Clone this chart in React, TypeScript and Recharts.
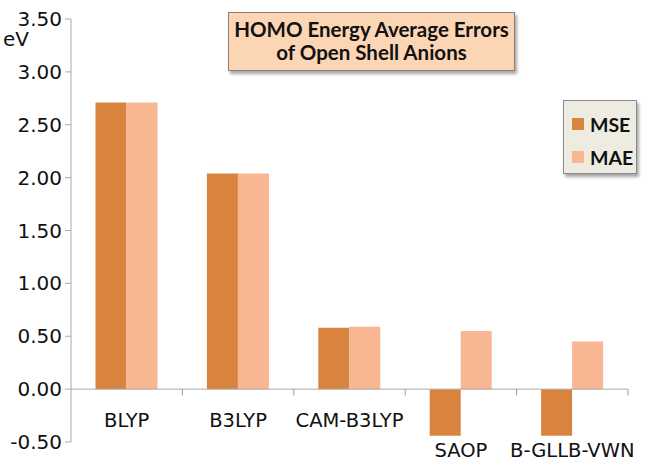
import React from "react";
import { BarChart, Bar, XAxis, YAxis, ReferenceLine } from "recharts";

const categories = ["BLYP", "B3LYP", "CAM-B3LYP", "SAOP", "B-GLLB-VWN"];
const mseValues = [2.71, 2.04, 0.58, -0.44, -0.44];
const maeValues = [2.71, 2.04, 0.59, 0.55, 0.45];
const yTicks = [-0.5, 0, 0.5, 1, 1.5, 2, 2.5, 3, 3.5];

const series = [
  { key: "MSE", color: "#D8843F" },
  { key: "MAE", color: "#F8B692" },
];

const data = categories.map((name, i) => ({
  name,
  MSE: mseValues[i],
  MAE: maeValues[i],
}));

const tickFont = "'DejaVu Sans', sans-serif";

// labels sit under the zero line, or under the bar when it goes negative
const CategoryTick = (props: any) => {
  const { x, y, payload, index } = props;
  const low = mseValues[index] < 0 || maeValues[index] < 0;
  return (
    <text
      x={x}
      y={y + (low ? 8 : -22)}
      textAnchor="middle"
      dominantBaseline="central"
      fontFamily={tickFont}
      fontSize={19.5}
      fill="#111"
    >
      {payload.value}
    </text>
  );
};

export default function App() {
  return (
    <div
      style={{
        position: "absolute",
        left: 0,
        top: 0,
        width: 650,
        height: 466,
        background: "#fff",
      }}
    >
      <BarChart
        width={650}
        height={466}
        data={data}
        margin={{ top: 19, right: 22, bottom: 0, left: 0 }}
        barCategoryGap="22%"
        barGap={0}
      >
        <YAxis
          width={71}
          domain={[-0.5, 3.5]}
          ticks={yTicks}
          interval={0}
          tickFormatter={(v: number) => v.toFixed(2)}
          axisLine={{ stroke: "#aaa" }}
          tickLine={{ stroke: "#aaa" }}
          tickSize={6}
          tickMargin={3}
          tick={{ fontFamily: tickFont, fontSize: 20, fill: "#111" }}
        />
        <XAxis
          dataKey="name"
          height={24}
          axisLine={false}
          tickLine={false}
          tickSize={0}
          tickMargin={0}
          interval={0}
          tick={<CategoryTick />}
        />
        <ReferenceLine y={0} stroke="#aaa" />
        {categories.map((c) => (
          <ReferenceLine
            key={c}
            segment={[
              { x: c, y: 0 },
              { x: c, y: -0.06 },
            ]}
            position="end"
            stroke="#999"
          />
        ))}
        {series.map((s) => (
          <Bar key={s.key} dataKey={s.key} fill={s.color} isAnimationActive={false} />
        ))}
      </BarChart>

      <div
        style={{
          position: "absolute",
          left: 3,
          top: 27,
          fontFamily: tickFont,
          fontSize: 20,
          color: "#111",
        }}
      >
        eV
      </div>

      <div
        style={{
          position: "absolute",
          left: 228,
          top: 12,
          width: 287,
          height: 59,
          boxSizing: "border-box",
          background: "#FCD5B5",
          border: "1px solid #8c7f74",
          boxShadow: "2px 3px 3px rgba(0,0,0,0.35)",
          fontFamily: "Lato, sans-serif",
          fontWeight: 700,
          fontSize: 20.5,
          lineHeight: "23px",
          color: "#111",
          textAlign: "center",
          paddingTop: 5,
        }}
      >
        HOMO Energy Average Errors
        <br />
        of Open Shell Anions
      </div>

      <div
        style={{
          position: "absolute",
          left: 563,
          top: 100,
          width: 74,
          height: 74,
          boxSizing: "border-box",
          background: "#EEECE1",
          border: "1px solid #8a8a8a",
          boxShadow: "2px 3px 3px rgba(0,0,0,0.35)",
        }}
      >
        {series.map((s, i) => (
          <div
            key={s.key}
            style={{
              position: "absolute",
              left: 8,
              top: 16 + i * 33,
              display: "flex",
              alignItems: "center",
              height: 14,
            }}
          >
            <span style={{ width: 12, height: 12, background: s.color, display: "inline-block" }} />
            <span
              style={{
                marginLeft: 6,
                fontFamily: "Lato, sans-serif",
                fontWeight: 700,
                fontSize: 19.5,
                color: "#111",
              }}
            >
              {s.key}
            </span>
          </div>
        ))}
      </div>
    </div>
  );
}
